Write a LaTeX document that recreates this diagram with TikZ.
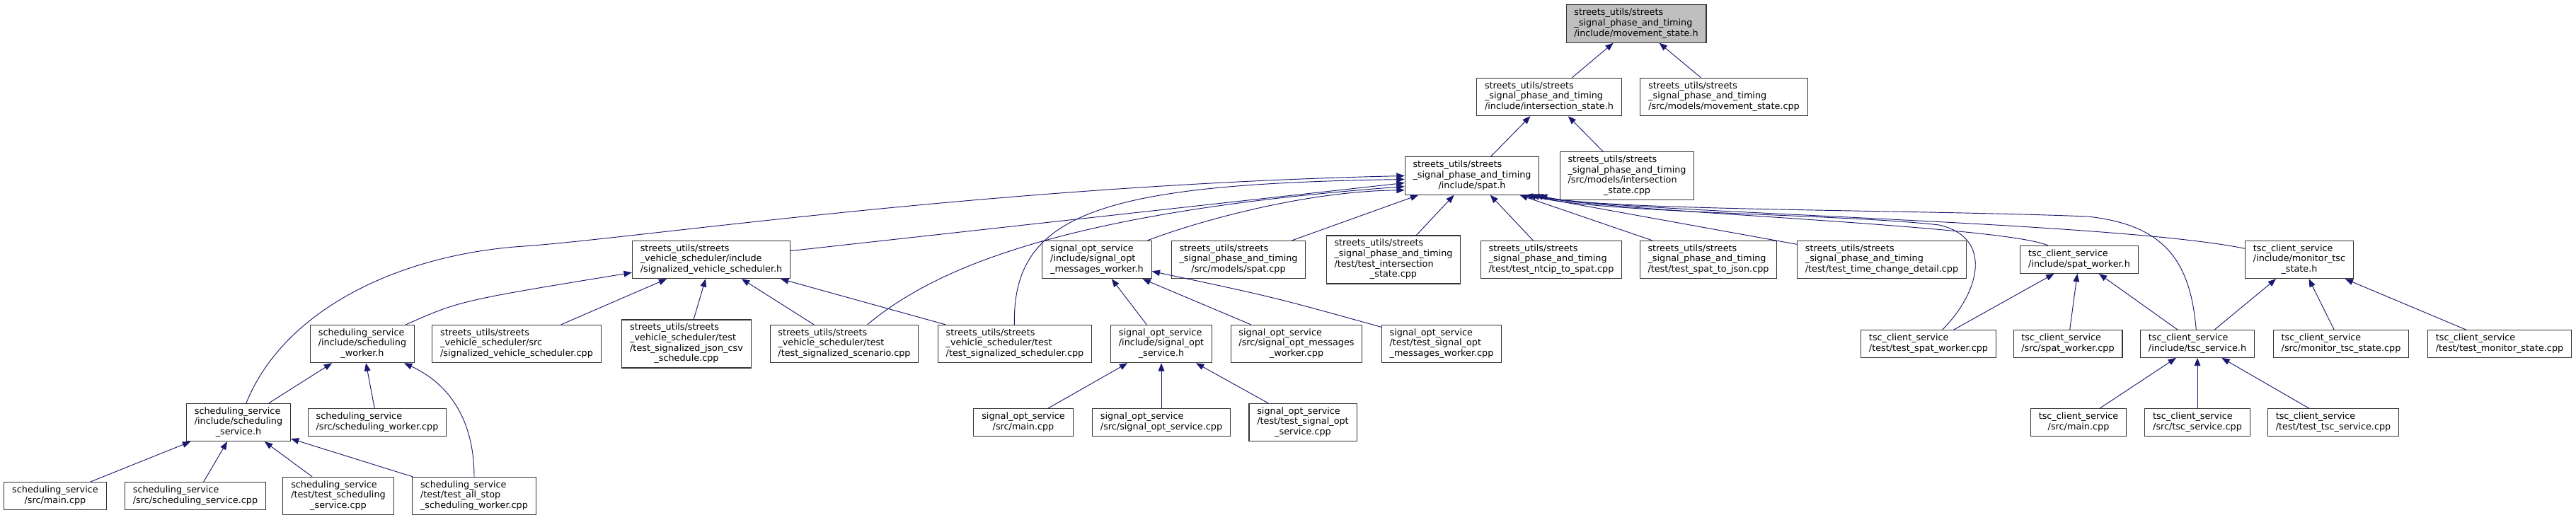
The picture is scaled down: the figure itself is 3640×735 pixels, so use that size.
\documentclass[tikz,border=0pt]{standalone}
\usepackage{fontspec}
\setmainfont{DejaVu Sans}
\usepackage{tikz}
\usetikzlibrary{arrows.meta}

\definecolor{depblue}{HTML}{191970}
% file label: leading lines flush left, last line centred
\newcommand{\flbl}[2]{\begin{tabular}{@{}l@{}}#1\\\multicolumn{1}{@{}c@{}}{#2}\end{tabular}}

\begin{document}
\begin{tikzpicture}[
  x=0.75pt, y=-0.75pt,
  file/.style={rectangle, draw=black!80, line width=0.8pt, fill=white, inner xsep=8.5pt, inner ysep=3.5pt, font=\fontsize{9.6}{11}\selectfont},
  cur/.style={file, fill=black!25},
  dep/.style={-{Triangle[length=8.5pt, width=6.5pt]}, draw=depblue, line width=0.7pt}
]
  \useasboundingbox (0,0) rectangle (3640,735);

  % Top: the header itself
  \node[cur] (msh) at (2312,33.5) {\flbl{streets\_utils/streets\\\_signal\_phase\_and\_timing}{/include/movement\_state.h}};

  % Row 1
  \node[file] (ish) at (2189,137) {\flbl{streets\_utils/streets\\\_signal\_phase\_and\_timing}{/include/intersection\_state.h}};
  \node[file] (mscpp) at (2436,137) {\flbl{streets\_utils/streets\\\_signal\_phase\_and\_timing}{/src/models/movement\_state.cpp}};

  % Row 2
  \node[file] (spath) at (2080,248.5) {\flbl{streets\_utils/streets\\\_signal\_phase\_and\_timing}{/include/spat.h}};
  \node[file] (iscpp) at (2299,248.5) {\flbl{streets\_utils/streets\\\_signal\_phase\_and\_timing\\/src/models/intersection}{\_state.cpp}};

  % Row 3
  \node[file] (svsh) at (1005,367) {\flbl{streets\_utils/streets\\\_vehicle\_scheduler/include}{/signalized\_vehicle\_scheduler.h}};
  \node[file] (somwh) at (1550,367) {\flbl{signal\_opt\_service\\/include/signal\_opt}{\_messages\_worker.h}};
  \node[file] (spatcpp) at (1750,367) {\flbl{streets\_utils/streets\\\_signal\_phase\_and\_timing}{/src/models/spat.cpp}};
  \node[file] (tiscpp) at (1969,367) {\flbl{streets\_utils/streets\\\_signal\_phase\_and\_timing\\/test/test\_intersection}{\_state.cpp}};
  \node[file] (tntcip) at (2192,367) {\flbl{streets\_utils/streets\\\_signal\_phase\_and\_timing}{/test/test\_ntcip\_to\_spat.cpp}};
  \node[file] (tjson) at (2414,367) {\flbl{streets\_utils/streets\\\_signal\_phase\_and\_timing}{/test/test\_spat\_to\_json.cpp}};
  \node[file] (ttcd) at (2659,367) {\flbl{streets\_utils/streets\\\_signal\_phase\_and\_timing}{/test/test\_time\_change\_detail.cpp}};
  \node[file] (swh) at (2938,367) {\flbl{tsc\_client\_service}{/include/spat\_worker.h}};
  \node[file] (mtsh) at (3249,367) {\flbl{tsc\_client\_service\\/include/monitor\_tsc}{\_state.h}};

  % Row 4
  \node[file] (swkh) at (512,486) {\flbl{scheduling\_service\\/include/scheduling}{\_worker.h}};
  \node[file] (svscpp) at (730,486) {\flbl{streets\_utils/streets\\\_vehicle\_scheduler/src}{/signalized\_vehicle\_scheduler.cpp}};
  \node[file] (tjsoncsv) at (970,486) {\flbl{streets\_utils/streets\\\_vehicle\_scheduler/test\\/test\_signalized\_json\_csv}{\_schedule.cpp}};
  \node[file] (tscen) at (1193,486) {\flbl{streets\_utils/streets\\\_vehicle\_scheduler/test}{/test\_signalized\_scenario.cpp}};
  \node[file] (tsched) at (1434,486) {\flbl{streets\_utils/streets\\\_vehicle\_scheduler/test}{/test\_signalized\_scheduler.cpp}};
  \node[file] (sosh) at (1641,486) {\flbl{signal\_opt\_service\\/include/signal\_opt}{\_service.h}};
  \node[file] (somwcpp) at (1832,486) {\flbl{signal\_opt\_service\\/src/signal\_opt\_messages}{\_worker.cpp}};
  \node[file] (tsomw) at (2037,486) {\flbl{signal\_opt\_service\\/test/test\_signal\_opt}{\_messages\_worker.cpp}};
  \node[file] (tswcpp) at (2725,486) {\flbl{tsc\_client\_service}{/test/test\_spat\_worker.cpp}};
  \node[file] (swcpp) at (2922,486) {\flbl{tsc\_client\_service}{/src/spat\_worker.cpp}};
  \node[file] (tsch) at (3105,486) {\flbl{tsc\_client\_service}{/include/tsc\_service.h}};
  \node[file] (mtscpp) at (3308,486) {\flbl{tsc\_client\_service}{/src/monitor\_tsc\_state.cpp}};
  \node[file] (tmon) at (3532,486) {\flbl{tsc\_client\_service}{/test/test\_monitor\_state.cpp}};

  % Row 5
  \node[file] (ssh) at (337,597) {\flbl{scheduling\_service\\/include/scheduling}{\_service.h}};
  \node[file] (swkcpp) at (533,597) {\flbl{scheduling\_service}{/src/scheduling\_worker.cpp}};
  \node[file] (somain) at (1446,597) {\flbl{signal\_opt\_service}{/src/main.cpp}};
  \node[file] (soscpp) at (1641,597) {\flbl{signal\_opt\_service}{/src/signal\_opt\_service.cpp}};
  \node[file] (tsos) at (1841,597) {\flbl{signal\_opt\_service\\/test/test\_signal\_opt}{\_service.cpp}};
  \node[file] (tscmain) at (2937,597) {\flbl{tsc\_client\_service}{/src/main.cpp}};
  \node[file] (tsccpp) at (3105,597) {\flbl{tsc\_client\_service}{/src/tsc\_service.cpp}};
  \node[file] (ttsc) at (3297,597) {\flbl{tsc\_client\_service}{/test/test\_tsc\_service.cpp}};

  % Row 6
  \node[file] (smain) at (78,701) {\flbl{scheduling\_service}{/src/main.cpp}};
  \node[file] (sscpp) at (276,701) {\flbl{scheduling\_service}{/src/scheduling\_service.cpp}};
  \node[file] (tss) at (478,701) {\flbl{scheduling\_service\\/test/test\_scheduling}{\_service.cpp}};
  \node[file] (tallstop) at (670,701) {\flbl{scheduling\_service\\/test/test\_all\_stop}{\_scheduling\_worker.cpp}};

  % Includes of movement_state.h / intersection_state.h
  \draw[dep] (ish) -- (msh);
  \draw[dep] (mscpp) -- (msh);
  \draw[dep] (spath) -- (ish);
  \draw[dep] (iscpp) -- (ish);

  % Includes of spat.h, from the left
  \draw[dep] (ssh) .. controls (400,440) and (560,360) .. (740,348) .. controls (900,337) and (1400,262) .. (spath.180);
  \draw[dep] (tsched) .. controls (1430,300) and (1560,260) .. (spath.183);
  \draw[dep] (svsh) -- (spath.186);
  \draw[dep] (tscen) .. controls (1320,380) and (1500,300) .. (spath.189);
  \draw[dep] (somwh) .. controls (1700,310) and (1850,270) .. (spath.192);
  % from below
  \draw[dep] (spatcpp) -- (spath);
  \draw[dep] (tiscpp) -- (spath);
  \draw[dep] (tntcip) -- (spath);
  % from the right, under intersection_state.cpp
  \draw[dep] (tjson) -- (spath.-22);
  \draw[dep] (ttcd) -- (spath.-20);
  \draw[dep] (tswcpp) .. controls (2800,410) and (2815,335) .. (2740,318) .. controls (2600,302) and (2265,302) .. (spath.-19);
  \draw[dep] (swh) .. controls (2830,318) and (2265,299) .. (spath.-18);
  \draw[dep] (tsch) .. controls (3095,370) and (3060,318) .. (2950,306) .. controls (2700,296) and (2265,298) .. (spath.-17);
  \draw[dep] (mtsh) .. controls (2980,312) and (2265,300) .. (spath.-16);

  % Includes of signalized_vehicle_scheduler.h
  \draw[dep] (swkh) .. controls (650,425) .. (svsh);
  \draw[dep] (svscpp) -- (svsh);
  \draw[dep] (tjsoncsv) -- (svsh);
  \draw[dep] (tscen) -- (svsh);
  \draw[dep] (tsched) -- (svsh);

  % signal_opt_service
  \draw[dep] (sosh) -- (somwh);
  \draw[dep] (somwcpp) -- (somwh);
  \draw[dep] (tsomw) .. controls (1800,420) .. (somwh);
  \draw[dep] (somain) -- (sosh);
  \draw[dep] (soscpp) -- (sosh);
  \draw[dep] (tsos) -- (sosh);

  % scheduling_service
  \draw[dep] (ssh) -- (swkh);
  \draw[dep] (swkcpp) -- (swkh);
  \draw[dep] (tallstop) .. controls (670,600) and (640,545) .. (swkh);
  \draw[dep] (smain) -- (ssh);
  \draw[dep] (sscpp) -- (ssh);
  \draw[dep] (tss) -- (ssh);
  \draw[dep] (tallstop) -- (ssh);

  % tsc_client_service
  \draw[dep] (tswcpp) -- (swh);
  \draw[dep] (swcpp) -- (swh);
  \draw[dep] (tsch) -- (swh);
  \draw[dep] (tsch) -- (mtsh);
  \draw[dep] (mtscpp) -- (mtsh);
  \draw[dep] (tmon) -- (mtsh);
  \draw[dep] (tscmain) -- (tsch);
  \draw[dep] (tsccpp) -- (tsch);
  \draw[dep] (ttsc) -- (tsch);

\end{tikzpicture}
\end{document}
